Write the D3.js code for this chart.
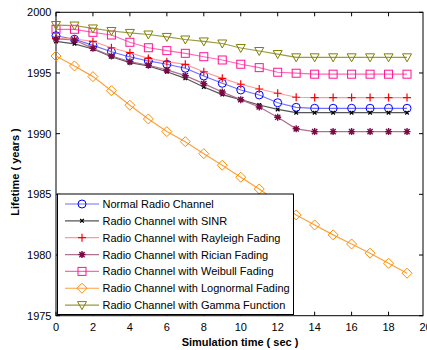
<!DOCTYPE html>
<html><head><meta charset="utf-8">
<script src="https://cdn.jsdelivr.net/npm/d3@7"></script>
<style>body{margin:0;background:#fff}svg{display:block}text{font-family:"Liberation Sans",Arial,sans-serif}</style>
</head><body><svg id="c" width="427" height="350"></svg>
<script>
const times = d3.range(0, 20);
const normal   = [1998.07,1997.78,1997.28,1996.75,1996.32,1995.99,1995.72,1995.39,1994.75,1994.15,1993.6,1993.19,1992.55,1992.17,1992.09,1992.09,1992.09,1992.09,1992.09,1992.09];
const sinr     = [1997.6,1997.4,1996.98,1996.34,1995.85,1995.58,1995.1,1994.56,1993.85,1993.22,1992.8,1992.36,1992.0,1991.73,1991.73,1991.73,1991.73,1991.73,1991.73,1991.73];
const rayleigh = [1997.85,1997.8,1997.6,1997.08,1996.67,1996.2,1995.93,1995.71,1995.1,1994.56,1994.07,1993.68,1993.33,1993.0,1992.97,1992.97,1992.97,1992.97,1992.97,1992.97];
const rician   = [1997.8,1997.72,1997.03,1996.4,1995.93,1995.64,1995.25,1994.78,1994.12,1993.43,1992.8,1992.2,1991.35,1990.4,1990.17,1990.17,1990.17,1990.17,1990.17,1990.17];
const weibull  = [1998.6,1998.6,1998.35,1998.13,1997.53,1997.08,1996.84,1996.62,1996.34,1996.07,1995.72,1995.44,1995.06,1994.98,1994.9,1994.9,1994.9,1994.9,1994.9,1994.9];
const lognormal= [1996.4,1995.58,1994.7,1993.54,1992.34,1991.21,1990.17,1989.34,1988.35,1987.4,1986.41,1985.44,1984.37,1983.3,1982.48,1981.66,1980.91,1980.15,1979.32,1978.5];
const gamma    = [1998.95,1998.91,1998.67,1998.46,1998.3,1998.17,1997.97,1997.76,1997.6,1997.43,1997.06,1996.81,1996.56,1996.29,1996.29,1996.29,1996.29,1996.29,1996.29,1996.29];
const seriesNames = ["Normal Radio Channel","Radio Channel with SINR","Radio Channel with Rayleigh Fading","Radio Channel with Rician Fading","Radio Channel with Weibull Fading","Radio Channel with Lognormal Fading","Radio Channel with Gamma Function"];
const xTicks = [0,2,4,6,8,10,12,14,16,18,20];
const yTicks = [1975,1980,1985,1990,1995,2000];

const styles = [
  {line:"#6f6fff", mark:"#0000ff", sym:"circle"},
  {line:"#555555", mark:"#000000", sym:"x"},
  {line:"#ff9a9a", mark:"#ff0000", sym:"plus"},
  {line:"#b0708f", mark:"#7a0a45", sym:"star"},
  {line:"#ff66b8", mark:"#ff1493", sym:"square"},
  {line:"#ffa040", mark:"#ff8c00", sym:"diamond"},
  {line:"#9a9a40", mark:"#808000", sym:"tri"}
];
const allSeries = [normal,sinr,rayleigh,rician,weibull,lognormal,gamma];

const svg = d3.select("#c");
const L=56, R=423, T=12.3, B=315.7;
const x = d3.scaleLinear().domain([0,20]).range([L,425.5]);
const y = d3.scaleLinear().domain([1975,2000]).range([B,T]);

// frame
svg.append("rect").attr("x",L).attr("y",T).attr("width",R-L).attr("height",B-T)
  .attr("fill","none").attr("stroke","#000").attr("stroke-width",1);

// ticks (inward, all sides)
const tl=4;
const g = svg.append("g").attr("stroke","#000").attr("stroke-width",1);
xTicks.forEach(t=>{ const px=x(t); if(px>R+1) return;
  g.append("line").attr("x1",px).attr("x2",px).attr("y1",B).attr("y2",B-tl);
  g.append("line").attr("x1",px).attr("x2",px).attr("y1",T).attr("y2",T+tl);});
yTicks.forEach(t=>{ const py=y(t);
  g.append("line").attr("x1",L).attr("x2",L+tl).attr("y1",py).attr("y2",py);
  g.append("line").attr("x1",R).attr("x2",R-tl).attr("y1",py).attr("y2",py);});

// tick labels
svg.append("g").selectAll("text").data(xTicks).join("text")
  .attr("x",d=>x(d)).attr("y",331).attr("text-anchor","middle").attr("font-size",11).text(d=>d);
svg.append("g").selectAll("text").data(yTicks).join("text")
  .attr("x",51.5).attr("y",d=>y(d)+4).attr("text-anchor","end").attr("font-size",11).text(d=>d);

// axis titles
svg.append("text").attr("x",240).attr("y",346).attr("text-anchor","middle")
  .attr("font-size",11).attr("font-weight","bold").text("Simulation time ( sec )");
svg.append("text").attr("transform","translate(19,172) rotate(-90)").attr("text-anchor","middle")
  .attr("font-size",11).attr("font-weight","bold").text("Lifetime ( years )");

function drawMarker(sel, sym, cx, cy, col){
  const gg = sel.append("g").attr("transform",`translate(${cx},${cy})`).attr("fill","none").attr("stroke",col).attr("stroke-width",1);
  if(sym==="circle") gg.append("circle").attr("r",4);
  else if(sym==="x"){ gg.append("path").attr("d","M-1.8,-1.8L1.8,1.8M-1.8,1.8L1.8,-1.8").attr("stroke-width",1.3); }
  else if(sym==="plus"){ gg.append("path").attr("d","M-4,0L4,0M0,-4L0,4").attr("stroke-width",1.2); }
  else if(sym==="star"){ gg.append("path").attr("d","M-3.5,0L3.5,0M0,-3.5L0,3.5M-2.6,-2.6L2.6,2.6M-2.6,2.6L2.6,-2.6").attr("stroke-width",1.4);
     gg.append("circle").attr("r",1.8).attr("fill",col).attr("stroke","none"); }
  else if(sym==="square") gg.append("rect").attr("x",-4).attr("y",-4).attr("width",8).attr("height",8);
  else if(sym==="diamond") gg.append("path").attr("d","M0,-5L5,0L0,5L-5,0Z");
  else if(sym==="tri") gg.append("path").attr("d","M-4.5,-3.5L4.5,-3.5L0,4.5Z");
}

const line = d3.line().x((d,i)=>x(times[i])).y(d=>y(d));
const plot = svg.append("g");
allSeries.forEach((s,k)=>{
  plot.append("path").attr("d",line(s)).attr("fill","none").attr("stroke",styles[k].line).attr("stroke-width",1.2);
  s.forEach((v,i)=>drawMarker(plot, styles[k].sym, x(times[i]), y(v), styles[k].mark));
});

// legend
const lg = svg.append("g");
lg.append("rect").attr("x",57.5).attr("y",194).attr("width",236).attr("height",120.5)
  .attr("fill","#fff").attr("stroke","#000").attr("stroke-width",1);
seriesNames.forEach((n,k)=>{
  const cy = 204 + k*16.85;
  lg.append("line").attr("x1",65).attr("x2",99).attr("y1",cy).attr("y2",cy).attr("stroke",styles[k].line).attr("stroke-width",1.2);
  drawMarker(lg, styles[k].sym, 82, cy, styles[k].mark);
  lg.append("text").attr("x",102.5).attr("y",cy+4).attr("font-size",11).text(n);
});
</script></body></html>
